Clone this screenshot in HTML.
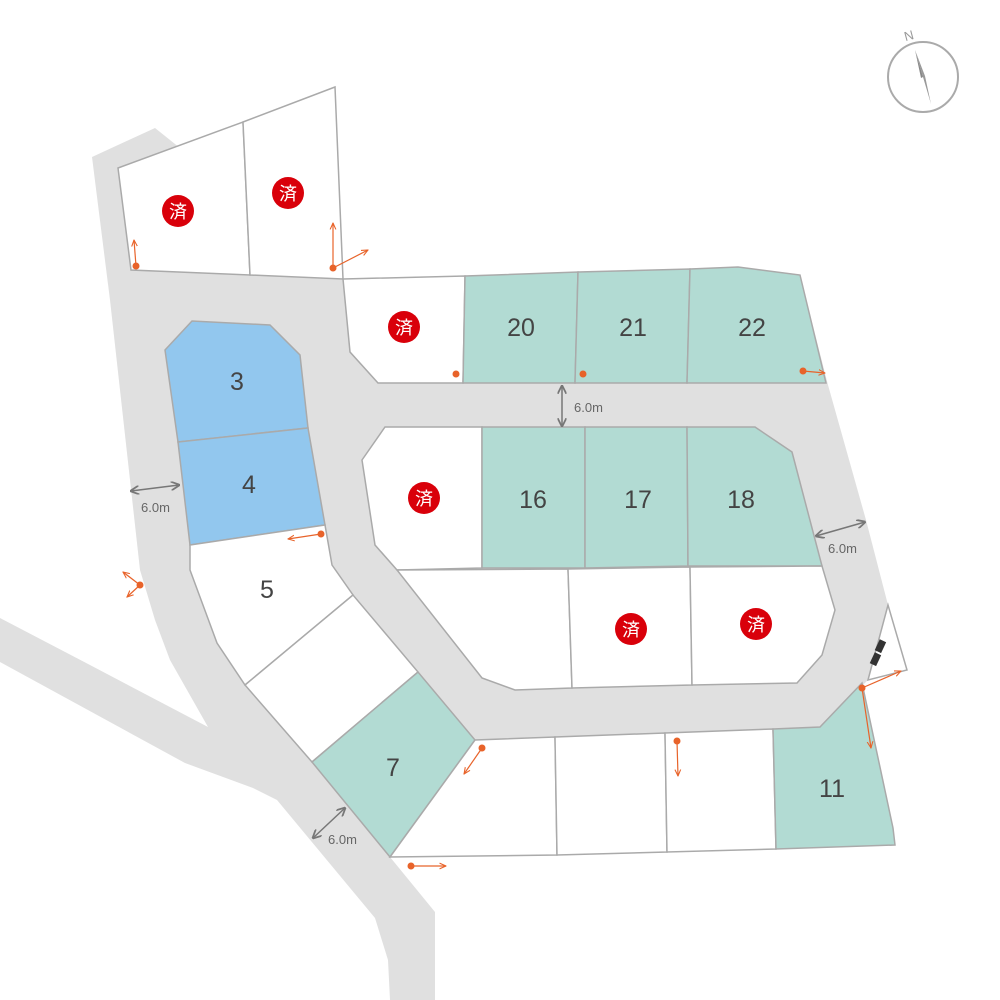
<!DOCTYPE html>
<html><head><meta charset="utf-8"><style>
html,body{margin:0;padding:0;background:#fff}
svg{display:block}
.n{font-family:"Liberation Sans",sans-serif;font-size:25px;fill:#444;text-anchor:middle}
.d{font-family:"Liberation Sans",sans-serif;font-size:13px;fill:#666}
.s{font-family:"Liberation Sans","Noto Sans CJK JP",sans-serif;font-size:18px;fill:#fff;text-anchor:middle}
</style></head><body>
<svg width="1000" height="1000" viewBox="0 0 1000 1000">
<defs>
<marker id="ga" viewBox="0 0 10 10" refX="9" refY="5" markerWidth="6" markerHeight="6" orient="auto-start-reverse"><path d="M0,0 L10,5 L0,10" fill="none" stroke="#777" stroke-width="2"/></marker>
<marker id="oa" viewBox="0 0 10 10" refX="9" refY="5" markerWidth="6" markerHeight="6" orient="auto"><path d="M0,1 L9,5 L0,9" fill="none" stroke="#e8632a" stroke-width="1.5"/></marker>
</defs>
<!-- roads -->
<polygon fill="#e0e0e0" points="92,157 155,128 345,280 800,275 828,385 866,520 888,605 868,680 820,727 475,740 390,857 435,912 435,1000 390,1000 388,960 375,918 277,800 253,788 185,763 0,662 0,618 90,665 208,727 170,660 155,620 140,570 110,300"/>
<g stroke="#aaa" stroke-width="1.5">
<polygon fill="#fff" points="118,168 243,122 250,275 131,270"/>
<polygon fill="#fff" points="243,122 335,87 343,279 250,275"/>
<polygon fill="#92c7ee" points="165,350 192,321 270,325 300,355 308,428 178,442"/>
<polygon fill="#92c7ee" points="178,442 308,428 325,525 190,545"/>
<polygon fill="#fff" points="190,545 325,525 332,565 353,595 245,685 217,643 190,570"/>
<polygon fill="#fff" points="245,685 353,595 418,672 312,762"/>
<polygon fill="#b2dbd3" points="312,762 418,672 475,740 390,857"/>
<polygon fill="#fff" points="390,857 475,740 555,737 557,855"/>
<polygon fill="#fff" points="555,737 665,733 667,852 557,855"/>
<polygon fill="#fff" points="665,733 773,729 776,849 667,852"/>
<polygon fill="#b2dbd3" points="773,729 820,727 862,683 893,828 895,845 776,849"/>
<polygon fill="#fff" points="868,680 888,605 907,670"/>
<polygon fill="#fff" points="343,279 465,276 463,383 378,383 350,352"/>
<polygon fill="#b2dbd3" points="465,276 578,272 575,383 463,383"/>
<polygon fill="#b2dbd3" points="578,272 690,269 687,383 575,383"/>
<polygon fill="#b2dbd3" points="690,269 738,267 800,275 826,383 687,383"/>
<polygon fill="#fff" points="362,460 385,427 482,427 482,568 397,570 375,545"/>
<polygon fill="#b2dbd3" points="482,427 585,427 585,568 482,568"/>
<polygon fill="#b2dbd3" points="585,427 687,427 688,566 585,568"/>
<polygon fill="#b2dbd3" points="687,427 755,427 792,452 822,566 688,566"/>
<polygon fill="#fff" points="397,570 568,569 572,688 515,690 482,678"/>
<polygon fill="#fff" points="568,569 690,567 692,685 572,688"/>
<polygon fill="#fff" points="690,567 822,566 835,610 822,655 797,683 692,685"/>
</g>
<g fill="#333"><rect x="877" y="640" width="7" height="12" transform="rotate(25 880 646)"/><rect x="872" y="653" width="7" height="12" transform="rotate(25 875 659)"/></g>
<!-- numbers -->
<text class="n" x="237" y="390">3</text>
<text class="n" x="249" y="493">4</text>
<text class="n" x="267" y="598">5</text>
<text class="n" x="393" y="776">7</text>
<text class="n" x="832" y="797">11</text>
<text class="n" x="521" y="336">20</text>
<text class="n" x="633" y="336">21</text>
<text class="n" x="752" y="336">22</text>
<text class="n" x="533" y="508">16</text>
<text class="n" x="638" y="508">17</text>
<text class="n" x="741" y="508">18</text>
<!-- sold -->
<g fill="#d9000a">
<circle cx="178" cy="211" r="16"/><circle cx="288" cy="193" r="16"/><circle cx="404" cy="327" r="16"/>
<circle cx="424" cy="498" r="16"/><circle cx="631" cy="629" r="16"/><circle cx="756" cy="624" r="16"/>
</g>
<text class="s" x="178" y="218">済</text><text class="s" x="288" y="200">済</text><text class="s" x="404" y="334">済</text>
<text class="s" x="424" y="505">済</text><text class="s" x="631" y="636">済</text><text class="s" x="756" y="631">済</text>
<!-- dimensions -->
<g stroke="#777" stroke-width="1.5" marker-start="url(#ga)" marker-end="url(#ga)">
<line x1="562" y1="386" x2="562" y2="426"/>
<line x1="131" y1="491" x2="179" y2="485"/>
<line x1="816" y1="536" x2="865" y2="522"/>
<line x1="313" y1="838" x2="345" y2="808"/>
</g>
<text class="d" x="574" y="412">6.0m</text>
<text class="d" x="141" y="512">6.0m</text>
<text class="d" x="828" y="553">6.0m</text>
<text class="d" x="328" y="844">6.0m</text>
<!-- orange markers -->
<g stroke="#e8632a" stroke-width="1.2" fill="none" marker-end="url(#oa)">
<line x1="136" y1="266" x2="134" y2="240"/>
<line x1="333" y1="268" x2="333" y2="223"/>
<line x1="333" y1="268" x2="368" y2="250"/>
<line x1="803" y1="371" x2="825" y2="373"/>
<line x1="321" y1="534" x2="288" y2="539"/>
<line x1="140" y1="585" x2="123" y2="572"/>
<line x1="140" y1="585" x2="127" y2="597"/>
<line x1="482" y1="748" x2="464" y2="774"/>
<line x1="677" y1="741" x2="678" y2="776"/>
<line x1="411" y1="866" x2="446" y2="866"/>
<line x1="862" y1="688" x2="901" y2="671"/>
<line x1="862" y1="688" x2="871" y2="748"/>
</g>
<g fill="#e8632a">
<circle cx="136" cy="266" r="3.5"/><circle cx="333" cy="268" r="3.5"/><circle cx="456" cy="374" r="3.5"/>
<circle cx="583" cy="374" r="3.5"/><circle cx="803" cy="371" r="3.5"/><circle cx="321" cy="534" r="3.5"/>
<circle cx="140" cy="585" r="3.5"/><circle cx="482" cy="748" r="3.5"/><circle cx="677" cy="741" r="3.5"/>
<circle cx="411" cy="866" r="3.5"/><circle cx="862" cy="688" r="3.5"/>
</g>
<!-- compass -->
<circle cx="923" cy="77" r="35" fill="none" stroke="#aaa" stroke-width="2"/>
<polygon points="915,50 923,77 931,104" fill="#bbb"/>
<polygon points="915,50 923,77 921,78" fill="#888"/>
<polygon points="915,50 931,104 925,76" fill="#999"/>
<text x="904" y="40" font-family="Liberation Sans,sans-serif" font-size="13" fill="#999" transform="rotate(-15 909 35)">N</text>
</svg>
</body></html>
